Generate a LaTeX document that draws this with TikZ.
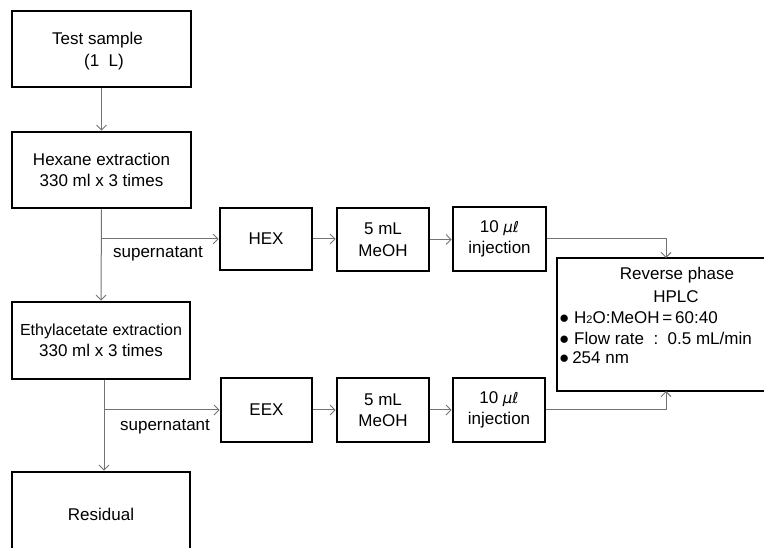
\documentclass[tikz,border=0pt]{standalone}
\usepackage{fontspec}
\setmainfont{Liberation Sans}
\newfontfamily\dejavu{DejaVu Sans}
\usetikzlibrary{arrows.meta}
\tikzset{
  box/.style={draw=black, line width=2.6pt, fill=white, inner sep=0pt, align=center,
    font=\fontsize{17}{21.5}\selectfont},
  txt/.style={inner sep=0pt, font=\fontsize{17}{21.5}\selectfont},
  conn/.style={draw=black!55, line width=1pt, -{Straight Barb[length=5pt,width=10pt,line width=0.9pt]}},
}
\begin{document}
\begin{tikzpicture}[x=1pt,y=-1pt]
\useasboundingbox (0,0) rectangle (764,548);
% left column
\node[box, minimum width=179pt, minimum height=76pt] (test) at (101.5,49) {};
\node[txt] (testa) at (97.5,40) {Test sample};
\node[txt] (testb) at (104,62) {(1\ \ L)};
\node[box, minimum width=179pt, minimum height=76pt] (hex) at (101.5,170) {Hexane extraction\\330 ml x 3 times};
\node[box, minimum width=178pt, minimum height=77pt] (eth) at (101,340.5) {{\fontsize{16}{21.5}\selectfont Ethylacetate extraction}\\330 ml x 3 times};
\node[box, minimum width=178pt, minimum height=84pt] (res) at (101,514) {Residual};
% top row
\node[box, minimum width=92pt, minimum height=62pt] (HEX) at (266,239) {HEX};
\node[box, minimum width=92pt, minimum height=63pt] (M1) at (383,239.5) {5 mL\\MeOH};
\node[box, minimum width=93pt, minimum height=64pt] (I1) at (499.5,239) {10 {\dejavu\itshape\fontsize{15}{15}\selectfont µℓ}\\injection};
% bottom row
\node[box, minimum width=91pt, minimum height=64pt] (EEX) at (266.5,410) {EEX};
\node[box, minimum width=92pt, minimum height=64pt] (M2) at (383,410) {5 mL\\MeOH};
\node[box, minimum width=92pt, minimum height=64pt] (I2) at (499,410) {10 {\dejavu\itshape\fontsize{15}{15}\selectfont µℓ}\\injection};
% HPLC
\node[box, minimum width=250pt, minimum height=133pt] (hplc) at (682,324.5) {};
\node[txt] (h1) at (677,275) {Reverse phase};
\node[txt] (h2) at (676,297) {HPLC};
\node[txt, anchor=west] (h3) at (559,318) {● H{\fontsize{11}{11}\selectfont 2}O:MeOH\,=\,60:40};
\node[txt, anchor=west] (h4) at (559,338) {● Flow rate\ \ :\ \ 0.5 mL/min};
\node[txt, anchor=west] (h5) at (559,358) {●\,254 nm};
% connectors
\draw[conn] (test.south) -- (hex.north);
\draw[conn] (hex.south) -- (eth.north);
\coordinate (b1) at (hex.south |- HEX.west);
\draw[conn] (b1) -- (HEX.west);
\node[txt] (s1) at (158,254) {supernatant};
\draw[conn] (HEX.east) -- (M1.west |- HEX.east);
\draw[conn] (M1.east) -- (I1.west |- M1.east);
\coordinate (tin) at (666,258);
\draw[conn] (I1.east) -| (tin);
\draw[conn] ([xshift=3pt]eth.south) -- ([xshift=3pt]res.north);
\coordinate (b2) at ([xshift=3pt]eth.south |- EEX.west);
\draw[conn] (b2) -- (EEX.west);
\node[txt] (s2) at (165,427) {supernatant};
\draw[conn] (EEX.east) -- (M2.west |- EEX.east);
\draw[conn] (M2.east) -- (I2.west |- M2.east);
\coordinate (bin) at (666,391);
\draw[conn] (I2.east) -| (bin);
\end{tikzpicture}
\end{document}
